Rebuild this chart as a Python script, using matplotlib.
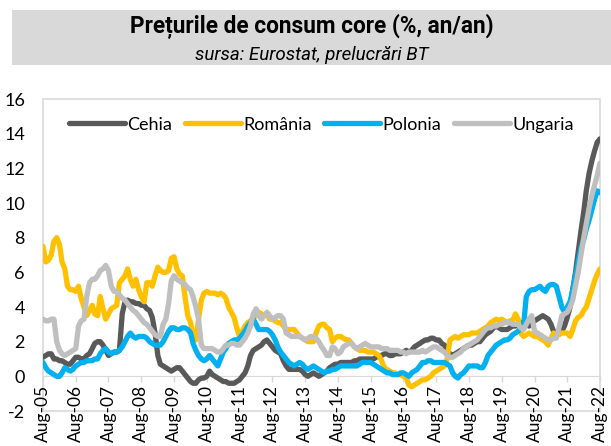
import matplotlib
matplotlib.use("Agg")
import matplotlib.pyplot as plt
from matplotlib.patches import Rectangle
import pandas as pd

title = "Prețurile de consum core (%, an/an)"
subtitle = "sursa: Eurostat, prelucrări BT"

dates = pd.date_range("2005-08-01", "2022-08-01", freq="MS")

cehia = [
    1.1, 1.2, 1.3, 1.3, 1.0, 1.0, 0.9, 0.9, 0.8, 0.7, 0.7, 0.9,
    1.1, 1.1, 1.0, 1.0, 1.2, 1.3, 1.6, 1.9, 2.0, 2.0, 1.8, 1.5,
    1.2, 1.3, 1.4, 1.4, 1.5, 3.6, 4.3, 4.4, 4.3, 4.3, 4.2, 4.2,
    4.1, 4.1, 3.9, 3.8, 3.4, 2.5, 1.2, 0.7, 0.6, 0.5, 0.4, 0.3,
    0.4, 0.5, 0.5, 0.3, 0.1, -0.1, -0.3, -0.4, -0.4, -0.2, -0.1, -0.1,
    0.0, 0.3, 0.1, 0.0, -0.1, -0.2, -0.3, -0.3, -0.4, -0.4, -0.4, -0.3,
    -0.2, 0.0, 0.2, 0.6, 1.2, 1.5, 1.6, 1.7, 1.8, 2.0, 2.1, 1.9,
    1.7, 1.5, 1.4, 1.3, 0.9, 0.6, 0.4, 0.4, 0.4, 0.4, 0.4, 0.3,
    0.1, 0.0, 0.1, 0.2, 0.1, 0.0, 0.1, 0.2, 0.3, 0.5, 0.6, 0.7,
    0.7, 0.8, 0.8, 0.8, 0.8, 0.8, 0.9, 0.9, 1.0, 1.0, 1.0, 1.0,
    1.0, 1.0, 1.1, 1.2, 1.2, 1.3, 1.3, 1.2, 1.2, 1.3, 1.3, 1.3,
    1.4, 1.5, 1.4, 1.5, 1.7, 1.8, 1.9, 2.0, 2.1, 2.1, 2.2, 2.2,
    2.1, 2.1, 1.9, 1.8, 1.5, 1.3, 1.2, 1.3, 1.4, 1.5, 1.6, 1.7,
    1.8, 1.8, 1.9, 2.0, 2.0, 2.2, 2.4, 2.5, 2.6, 2.8, 2.9, 2.8,
    2.7, 2.7, 2.7, 2.8, 2.9, 2.9, 3.0, 3.1, 3.1, 3.0, 2.9, 3.1,
    3.2, 3.3, 3.4, 3.5, 3.4, 3.3, 3.0, 2.6, 2.5, 2.5, 2.6, 2.9,
    3.4, 4.0, 5.0, 6.0, 7.2, 8.4, 9.5, 10.7, 11.7, 12.4, 13.0, 13.5,
    13.7,
]

romania = [
    7.5, 6.6, 6.7, 7.0, 7.8, 8.0, 7.6, 6.6, 6.2, 5.2, 5.0, 5.0,
    4.9, 5.2, 4.5, 4.0, 3.5, 3.8, 4.1, 3.6, 3.5, 4.6, 3.9, 3.3,
    3.6, 3.9, 4.0, 4.1, 5.4, 5.6, 5.8, 6.2, 5.6, 5.2, 5.6, 5.0,
    4.6, 4.3, 5.4, 5.4, 5.2, 5.8, 6.3, 6.1, 6.0, 6.0, 6.1, 6.8,
    6.9, 6.2, 5.9, 5.8, 4.6, 3.5, 3.1, 2.3, 2.1, 3.3, 4.4, 4.8,
    4.9, 4.8, 4.8, 4.8, 4.7, 4.8, 4.7, 4.5, 4.0, 3.7, 3.4, 2.8,
    2.3, 2.6, 2.9, 3.1, 3.2, 3.4, 3.5, 3.7, 3.6, 3.5, 3.6, 3.3,
    3.3, 3.2, 3.1, 3.1, 2.9, 2.7, 2.7, 2.7, 2.7, 2.5, 2.3, 2.2,
    2.1, 2.0, 2.0, 2.0, 2.5, 2.9, 3.0, 3.0, 2.8, 2.7, 2.0, 2.2,
    2.3, 2.3, 2.2, 2.1, 2.1, 1.9, 1.7, 1.6, 1.5, 1.5, 1.5, 1.4,
    1.4, 1.4, 1.3, 1.2, 0.9, 0.5, 0.4, 0.3, 0.2, 0.2, 0.1, 0.1,
    0.0, -0.1, -0.5, -0.6, -0.5, -0.4, -0.3, -0.2, -0.2, -0.1, 0.0, 0.2,
    0.3, 0.4, 0.5, 0.6, 1.0, 2.1, 2.2, 2.3, 2.2, 2.3, 2.4, 2.4,
    2.4, 2.5, 2.5, 2.5, 2.6, 2.7, 2.8, 2.9, 3.1, 3.2, 3.3, 3.2,
    3.3, 3.2, 3.1, 3.2, 3.2, 3.6, 3.3, 2.5, 2.3, 2.4, 2.5, 2.4,
    2.3, 2.3, 2.2, 2.1, 2.0, 1.8, 2.2, 2.5, 2.4, 2.4, 2.5, 2.5,
    2.5, 2.3, 2.7, 3.2, 3.4, 3.5, 3.8, 4.0, 4.5, 5.0, 5.5, 5.9,
    6.2,
]

polonia = [
    0.8, 0.5, 0.3, 0.2, 0.1, 0.0, 0.0, 0.2, 0.5, 0.4, 0.3, 0.4,
    0.6, 0.7, 0.8, 0.8, 0.9, 0.9, 0.9, 1.0, 1.0, 1.3, 1.5, 1.6,
    1.4, 1.3, 1.4, 1.4, 1.5, 1.7, 2.0, 2.3, 2.5, 2.3, 2.2, 2.3,
    2.3, 2.3, 2.2, 2.0, 1.9, 1.8, 1.8, 1.8, 2.0, 2.3, 2.6, 2.8,
    2.8, 2.7, 2.7, 2.8, 2.8, 2.7, 2.5, 1.9, 1.5, 1.2, 1.0, 0.9,
    1.0, 1.2, 1.0, 0.8, 0.6, 1.0, 1.4, 1.6, 1.9, 2.0, 2.1, 2.1,
    2.2, 2.4, 2.6, 2.9, 3.1, 3.3, 3.0, 2.7, 2.7, 2.7, 2.7, 2.6,
    2.4, 2.1, 1.7, 1.4, 1.2, 1.0, 0.8, 0.7, 0.6, 0.7, 0.8, 0.7,
    0.5, 0.4, 0.5, 0.6, 0.5, 0.4, 0.3, 0.2, 0.3, 0.3, 0.4, 0.4,
    0.5, 0.6, 0.6, 0.6, 0.6, 0.6, 0.6, 0.6, 0.7, 0.8, 0.8, 0.8,
    0.8, 0.7, 0.6, 0.5, 0.4, 0.3, 0.2, 0.2, 0.1, 0.1, 0.1, 0.2,
    0.2, 0.1, 0.0, 0.2, 0.3, 0.4, 0.6, 0.8, 0.8, 0.9, 0.9, 0.8,
    0.8, 0.8, 0.8, 0.8, 0.7, 0.6, 0.2, 0.0, -0.1, 0.1, 0.2, 0.4,
    0.6, 0.6, 0.6, 0.6, 0.5, 0.5, 0.8, 1.2, 1.4, 1.6, 1.8, 1.9,
    2.0, 2.1, 2.1, 2.2, 2.4, 2.5, 2.6, 2.8, 2.9, 4.6, 4.9, 5.0,
    5.0, 5.1, 5.2, 5.0, 4.9, 5.2, 5.3, 5.3, 5.2, 4.6, 4.0, 3.7,
    4.0, 4.3, 5.0, 5.8, 6.6, 7.4, 7.9, 8.5, 9.0, 9.6, 10.2, 10.7,
    10.6,
]

ungaria = [
    3.3, 3.2, 3.2, 3.3, 3.3, 2.0, 1.5, 1.3, 1.2, 1.3, 1.4, 1.5,
    1.6, 2.9, 3.2, 3.3, 4.6, 5.4, 5.6, 5.6, 5.8, 6.1, 6.2, 6.4,
    6.1, 5.2, 4.9, 4.9, 4.7, 4.5, 4.4, 4.2, 4.0, 3.8, 3.7, 3.5,
    3.3, 3.1, 3.0, 2.8, 2.6, 2.4, 2.3, 2.3, 3.0, 3.3, 4.2, 5.5,
    5.8, 5.6, 5.5, 5.4, 5.3, 5.1, 5.0, 4.6, 4.0, 3.3, 1.8, 1.6,
    1.6, 1.6, 1.6, 1.5, 1.4, 1.4, 1.6, 1.8, 1.8, 1.9, 1.9, 1.8,
    1.8, 2.0, 2.2, 2.5, 2.9, 3.6, 3.9, 3.5, 3.3, 3.5, 3.7, 3.5,
    3.3, 3.4, 3.5, 3.5, 3.3, 2.5, 2.4, 2.3, 2.3, 2.3, 2.3, 2.2,
    2.1, 2.2, 2.3, 2.3, 2.2, 2.0, 1.7, 1.5, 1.2, 1.2, 1.7, 1.6,
    1.3, 1.4, 1.7, 1.8, 1.9, 1.9, 1.7, 1.6, 1.7, 1.8, 1.9, 1.8,
    1.7, 1.7, 1.7, 1.7, 1.6, 1.6, 1.6, 1.5, 1.5, 1.5, 1.5, 1.4,
    1.4, 1.3, 1.4, 1.4, 1.4, 1.4, 1.4, 1.5, 1.4, 1.5, 1.6, 1.7,
    1.7, 1.6, 1.5, 1.4, 1.2, 1.1, 1.1, 1.2, 1.3, 1.4, 1.6, 1.7,
    1.8, 1.9, 2.0, 2.1, 2.3, 2.5, 2.7, 2.8, 2.8, 2.9, 2.9, 3.0,
    3.0, 3.1, 3.1, 3.1, 3.0, 3.0, 3.0, 2.8, 2.7, 3.0, 3.3, 3.5,
    2.6, 2.5, 2.4, 2.3, 2.2, 2.1, 2.1, 2.2, 2.2, 2.8, 3.5, 3.6,
    3.7, 4.0, 4.4, 5.2, 6.0, 7.0, 8.0, 8.8, 9.7, 10.4, 11.0, 11.6,
    12.3,
]

series_names = ["Cehia", "România", "Polonia", "Ungaria"]
series_values = [cehia, romania, polonia, ungaria]
series_colors = ["#595959", "#FFC000", "#00B0F0", "#BFBFBF"]

y_ticks = [-2, 0, 2, 4, 6, 8, 10, 12, 14, 16]
x_tick_dates = pd.date_range("2005-08-01", "2022-08-01", freq="12MS")
x_tick_labels = [d.strftime("%b-%y") for d in x_tick_dates]

plt.rcParams["font.family"] = ["Lato", "DejaVu Sans"]

fig = plt.figure(figsize=(6.11, 4.46), dpi=100)
fig.patch.set_facecolor("white")

# title box
fig.patches.append(Rectangle((12 / 611, 1 - 65 / 446), 1 - 12 / 611, 55 / 446,
                             transform=fig.transFigure, facecolor="#D9D9D9",
                             edgecolor="none", zorder=0))
fig.text(0.511, 1 - 33 / 446, title, ha="center", va="baseline", fontsize=16.3,
         fontweight="bold", family=["Roboto", "DejaVu Sans"], color="#000000")
fig.text(0.511, 1 - 60 / 446, subtitle, ha="center", va="baseline", fontsize=13.5,
         style="italic", family=["Roboto", "DejaVu Sans"], color="#000000")

ax = fig.add_axes([43 / 611, 1 - 411 / 446, (600 - 43) / 611, (411 - 99) / 446])

# horizontal axis crosses at 0 (set before tick labels: it resets ticks)
for s in ["left", "right", "top"]:
    ax.spines[s].set_visible(False)
ax.spines["bottom"].set_position(("data", 0))
ax.spines["bottom"].set_color("#D9D9D9")
ax.spines["bottom"].set_zorder(0.5)

for name, vals, col in zip(series_names, series_values, series_colors):
    ax.plot(dates, vals, color=col, lw=3.8, label=name,
            solid_joinstyle="round", solid_capstyle="round")

ax.set_ylim(-2, 16)
ax.set_xlim(dates[0], dates[-1])
ax.set_yticks(y_ticks)
ax.set_yticklabels([str(v) for v in y_ticks], fontsize=13)
ax.tick_params(axis="y", length=0, pad=13)

ax.set_xticks(x_tick_dates)
ax.set_xticklabels(x_tick_labels, fontsize=12.5)
ax.tick_params(axis="x", length=4, color="#D9D9D9", width=1, pad=2,
               direction="out", labelrotation=90)
for lab in ax.get_xticklabels():
    lab.set_ha("center")
    lab.set_va("top")

# plot area border
ax.add_patch(Rectangle((0, 0), 1, 1, transform=ax.transAxes, fill=False,
                       edgecolor="#D9D9D9", lw=1.2, zorder=0.4, clip_on=False))

leg = ax.legend(loc="upper center", ncol=4, frameon=False, fontsize=13,
                handlelength=3.1, handletextpad=0.12, columnspacing=0.7,
                bbox_to_anchor=(0.5, 0.995))

fig.savefig("out.png", dpi=100, facecolor="white")
